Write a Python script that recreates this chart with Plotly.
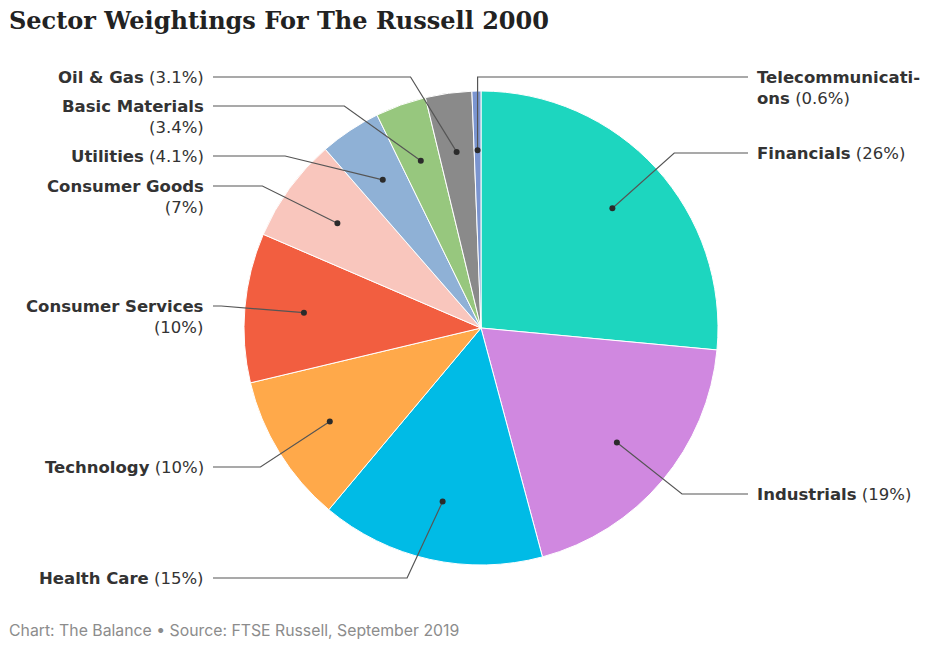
import math
import plotly.graph_objects as go

# ---- data ----
sectors = ["Financials", "Industrials", "Health Care", "Technology", "Consumer Services",
           "Consumer Goods", "Utilities", "Basic Materials", "Oil & Gas", "Telecommunications"]
weights = [26, 19, 15, 10, 10, 7, 4.1, 3.4, 3.1, 0.6]
pct_labels = ["26%", "19%", "15%", "10%", "10%", "7%", "4.1%", "3.4%", "3.1%", "0.6%"]
label_names = ["Financials", "Industrials", "Health Care", "Technology", "Consumer Services",
               "Consumer Goods", "Utilities", "Basic Materials", "Oil & Gas", "Telecommunicati-<br>ons"]
colors = ["#1dd6bf", "#d088e0", "#00bbe6", "#ffa94a", "#f25e40",
          "#f9c6bd", "#8fb1d6", "#97c77e", "#8a8a8a", "#7b95d0"]

# ---- layout (pixels) ----
W, H = 937, 645
CX, CY, R = 481, 328, 237
label_y = [153, 494, 578, 467, 306, 186, 156, 106, 77, 77]
label_side = ["R", "R", "L", "L", "L", "L", "L", "L", "L", "R"]
two_line = [False, False, False, False, True, True, False, True, False, True]
LEFT_LINE_END, LEFT_TEXT = 213, 206
RIGHT_LINE_END, RIGHT_TEXT = 748, 755
LABEL_FONT = "DejaVu Sans"
LABEL_SIZE = 16.5


def px(x):
    return x / W


def py(y):
    return 1 - y / H


fig = go.Figure()
fig.add_trace(go.Pie(
    labels=sectors, values=weights, sort=False, direction="clockwise", rotation=0,
    marker=dict(colors=colors, line=dict(color="white", width=1)),
    textinfo="none", showlegend=False,
    domain=dict(x=[px(CX - R), px(CX + R)], y=[py(CY + R), py(CY - R)]),
    hovertemplate="%{label}: %{value}%<extra></extra>",
))

shapes = []
annotations = []
total = sum(weights)
cum = 0.0
for i, w in enumerate(weights):
    mid = (cum + w / 2) / total * 2 * math.pi
    cum += w
    dx_, dy_ = math.sin(mid), -math.cos(mid)
    dot_x, dot_y = CX + 0.75 * R * dx_, CY + 0.75 * R * dy_
    ly = label_y[i]
    rr = 1.1 * R
    dy = ly - CY
    dot_side = "R" if dot_x >= CX else "L"
    if dot_side != label_side[i]:
        ex = dot_x
    else:
        dx = math.sqrt(max(rr * rr - dy * dy, 0))
        ex = CX + dx if dot_side == "R" else CX - dx
    end_x = RIGHT_LINE_END if label_side[i] == "R" else LEFT_LINE_END
    path = f"M {px(dot_x)} {py(dot_y)} L {px(ex)} {py(ly)} L {px(end_x)} {py(ly)}"
    shapes.append(dict(type="path", path=path, xref="paper", yref="paper",
                       line=dict(color="#555555", width=1.2), layer="above"))
    rd = 3
    shapes.append(dict(type="circle", xref="paper", yref="paper",
                       x0=px(dot_x - rd), x1=px(dot_x + rd), y0=py(dot_y + rd), y1=py(dot_y - rd),
                       fillcolor="#2b2b2b", line=dict(width=0), layer="above"))
    name = label_names[i]
    if two_line[i] and "<br>" not in name:
        txt = f"<b>{name}</b><br>({pct_labels[i]})"
    elif "<br>" in name:
        a, b = name.split("<br>")
        txt = f"<b>{a}</b><br><b>{b}</b> ({pct_labels[i]})"
    else:
        txt = f"<b>{name}</b> ({pct_labels[i]})"
    common = dict(y=py(ly - 11), xref="paper", yref="paper", text=txt, showarrow=False,
                  yanchor="top", font=dict(family=LABEL_FONT, size=LABEL_SIZE, color="#333333"))
    if label_side[i] == "R":
        annotations.append(dict(x=px(RIGHT_TEXT), xanchor="left", align="left", **common))
    else:
        annotations.append(dict(x=px(LEFT_TEXT), xanchor="right", align="right", **common))

annotations.append(dict(x=px(7), y=py(20), xref="paper", yref="paper",
                        text="<b>Sector Weightings For The Russell 2000</b>", showarrow=False,
                        xanchor="left", yanchor="middle",
                        font=dict(family="DejaVu Serif", size=24, color="#222222")))
annotations.append(dict(x=px(7), y=py(630), xref="paper", yref="paper",
                        text="Chart: The Balance • Source: FTSE Russell, September 2019",
                        showarrow=False, xanchor="left", yanchor="middle",
                        font=dict(family="Inter", size=15.8, color="#8c8c8c")))

fig.update_layout(
    width=W, height=H, margin=dict(l=0, r=0, t=0, b=0),
    paper_bgcolor="white", plot_bgcolor="white",
    font=dict(family="Inter, Roboto, sans-serif", color="#333333"),
    shapes=shapes, annotations=annotations,
)
fig.write_html("out.html")
